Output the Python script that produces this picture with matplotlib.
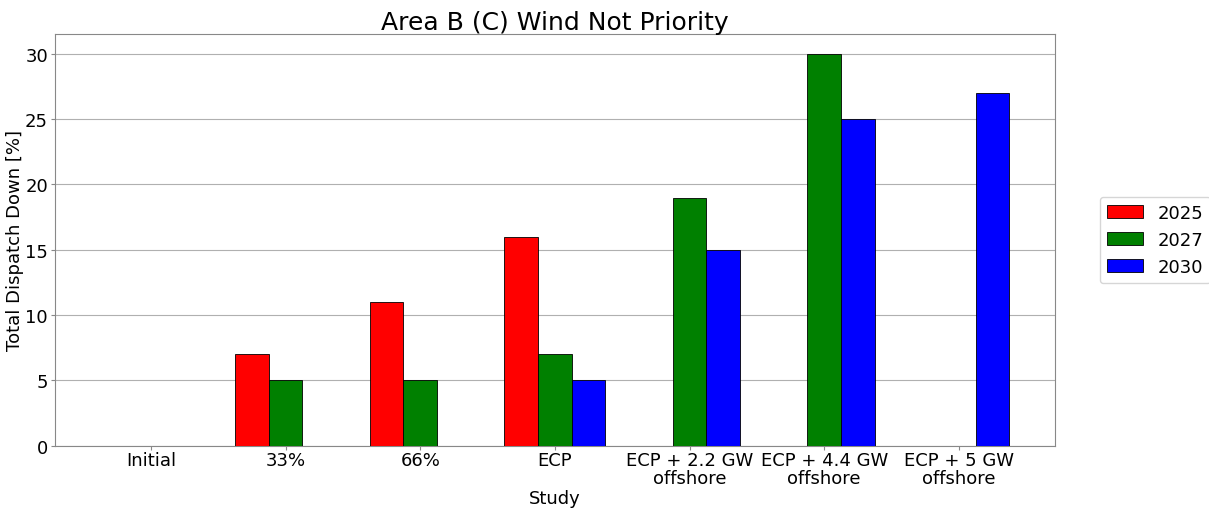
import numpy as np
from matplotlib import pyplot as plt

studies = [
    'Initial',
    '33%',
    '66%',
    'ECP',
    'ECP + 2.2 GW\noffshore',
    'ECP + 4.4 GW\noffshore',
    'ECP + 5 GW\noffshore',
]
years = ['2025', '2027', '2030']
colors = ['red', 'green', 'blue']

vals_2025 = [0, 7, 11, 16, 0, 0, 0]
vals_2027 = [0, 5, 5, 7, 19, 30, 0]
vals_2030 = [0, 0, 0, 5, 15, 25, 27]

series = [vals_2025, vals_2027, vals_2030]

fig = plt.figure(figsize=(12.09, 5.1), dpi=100)
ax = fig.add_axes([0.0455, 0.124, 0.827, 0.807])

x = np.arange(len(studies))
w = 0.25
for i, (vals, c, yr) in enumerate(zip(series, colors, years)):
    ax.bar(x + (i - 1) * w, vals, w, color=c, edgecolor='black',
           linewidth=0.6, label=yr, zorder=3)

ax.set_xticks(x)
ax.set_xticklabels(studies, fontsize=13, linespacing=1.0)
ax.tick_params(axis='y', labelsize=13, pad=2)
ax.tick_params(axis='x', length=3, color='#888888', pad=1)
ax.tick_params(axis='y', length=3, color='#888888')
ax.grid(axis='y', color='#b0b0b0', linewidth=0.8, zorder=0)
for s in ax.spines.values():
    s.set_color('#888888')

ax.set_title('Area B (C) Wind Not Priority', fontsize=18, pad=4)
ax.set_xlabel('Study', fontsize=13, labelpad=1)
ax.set_ylabel('Total Dispatch Down [%]', fontsize=13, labelpad=1)

ax.legend(loc='center left', bbox_to_anchor=(1.036, 0.5), fontsize=13)

fig.savefig('out.png')
